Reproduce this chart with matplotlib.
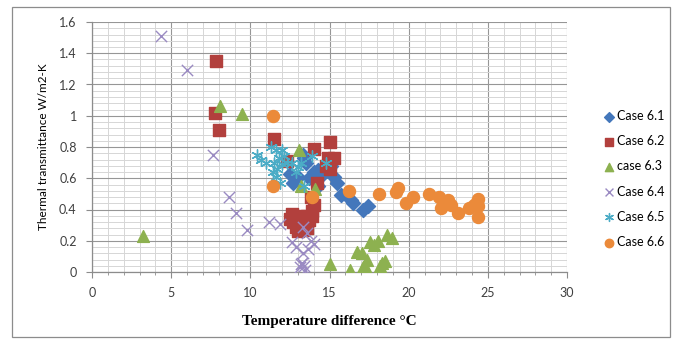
import numpy as np
import matplotlib.pyplot as plt
from matplotlib.patches import Rectangle
from matplotlib.ticker import MultipleLocator

plt.rcParams['font.family'] = ['Lato', 'DejaVu Sans']

# Case 6.1 .. 6.6 : (temperature difference, thermal transmittance)
case61_x = [12.5, 12.7, 13.0, 13.3, 13.4, 13.5, 13.7, 14.0, 14.25, 14.4, 14.25, 14.6, 14.95,
            15.1, 15.3, 15.5, 15.7, 16.35, 16.5, 17.1, 17.4]
case61_y = [0.63, 0.57, 0.61, 0.75, 0.73, 0.70, 0.60, 0.64, 0.65, 0.62, 0.55, 0.63, 0.66,
            0.68, 0.61, 0.57, 0.49, 0.46, 0.44, 0.40, 0.42]

case62_x = [7.8, 7.75, 8.0, 11.5, 12.3, 14.0, 15.0, 14.9, 15.3, 15.0, 14.8, 14.2, 13.8, 14.0,
            13.9, 13.6, 13.7, 13.3, 12.6, 12.7, 12.9, 13.0, 13.3, 12.5, 13.1, 13.5, 13.9, 13.6]
case62_y = [1.35, 1.02, 0.91, 0.85, 0.71, 0.79, 0.83, 0.73, 0.73, 0.66, 0.68, 0.57, 0.48, 0.43,
            0.39, 0.36, 0.33, 0.31, 0.37, 0.32, 0.29, 0.26, 0.27, 0.34, 0.36, 0.30, 0.36, 0.28]

case63_x = [3.2, 8.1, 9.5, 13.1, 13.2, 14.1, 15.0, 16.3, 16.75, 17.05, 17.35, 17.1, 17.35,
            17.55, 18.05, 18.2, 18.3, 18.5, 18.6, 18.95, 17.8]
case63_y = [0.23, 1.06, 1.01, 0.78, 0.55, 0.53, 0.05, 0.01, 0.13, 0.12, 0.08, 0.03, 0.01,
            0.19, 0.20, 0.04, 0.06, 0.07, 0.24, 0.22, 0.17]

case64_x = [4.36, 6.0, 7.63, 8.64, 9.1, 9.8, 11.15, 11.9, 12.6, 12.9, 13.3, 13.25, 13.15,
            13.45, 13.65, 13.6, 13.3, 13.8, 14.0, 13.4, 13.2]
case64_y = [1.51, 1.29, 0.75, 0.48, 0.38, 0.27, 0.32, 0.31, 0.19, 0.16, 0.12, 0.06, 0.03,
            0.01, 0.15, 0.25, 0.29, 0.20, 0.18, 0.04, 0.05]

case65_x = [10.4, 10.7, 11.0, 11.3, 11.5, 11.6, 11.7, 11.8, 11.9, 12.0, 12.1, 12.3, 12.6,
            12.9, 13.2, 13.9, 14.75, 11.4, 11.6, 12.0, 13.4, 13.0]
case65_y = [0.75, 0.72, 0.70, 0.80, 0.70, 0.78, 0.66, 0.73, 0.57, 0.78, 0.74, 0.70, 0.70,
            0.64, 0.70, 0.74, 0.70, 0.64, 0.61, 0.69, 0.55, 0.67]

case66_x = [11.4, 11.4, 13.9, 16.2, 18.1, 19.2, 19.35, 20.3, 19.85, 21.3, 21.9, 22.5, 22.05,
            22.7, 23.1, 23.8, 24.1, 24.3, 24.4, 24.35, 24.35]
case66_y = [1.00, 0.55, 0.48, 0.52, 0.50, 0.51, 0.54, 0.48, 0.44, 0.50, 0.48, 0.46, 0.41,
            0.43, 0.38, 0.41, 0.43, 0.45, 0.47, 0.42, 0.35]

fig = plt.figure(figsize=(6.78, 3.43), dpi=100)
ax = fig.add_axes([92 / 678, 1 - 272 / 343, 475 / 678, 250 / 343])

ms = 60
ax.scatter(case61_x, case61_y, marker='D', s=ms * 0.85, color='#4477BB', label='Case 6.1', zorder=3)
ax.scatter(case62_x, case62_y, marker='s', s=ms * 1.25, color='#B2403D', label='Case 6.2', zorder=3)
ax.scatter(case63_x, case63_y, marker='^', s=ms * 1.2, color='#8DB150', label='case 6.3', zorder=3)
ax.scatter(case64_x, case64_y, marker='x', s=ms * 1.1, color='#9A8AC2', linewidths=1.0, label='Case 6.4', zorder=3)
ax.scatter(case65_x, case65_y, marker=(6, 2, 0), s=ms * 1.1, color='#4BACC6', linewidths=1.0, label='Case 6.5', zorder=3)
ax.scatter(case66_x, case66_y, marker='o', s=ms * 1.25, color='#EB8A3A', label='Case 6.6', zorder=3)

ax.set_xlim(0, 30)
ax.set_ylim(0, 1.6)
ax.xaxis.set_major_locator(MultipleLocator(5))
ax.xaxis.set_minor_locator(MultipleLocator(1))
ax.yaxis.set_minor_locator(MultipleLocator(0.04))
ax.set_yticks(np.arange(0, 1.61, 0.2))
ax.set_yticklabels(['0', '0.2', '0.4', '0.6', '0.8', '1', '1.2', '1.4', '1.6'])

ax.grid(which='major', color='#969696', linewidth=0.8, zorder=0)
ax.grid(which='minor', color='#D6D6D6', linewidth=0.7, zorder=0)
ax.set_axisbelow(True)
for side in ['top', 'right']:
    ax.spines[side].set_visible(False)
for side in ['left', 'bottom']:
    ax.spines[side].set_color('#8C8C8C')
    ax.spines[side].set_linewidth(0.9)
ax.tick_params(which='major', length=4, color='#8C8C8C', labelsize=9, labelcolor='#404040', pad=7)
ax.tick_params(which='minor', length=2, color='#8C8C8C')
ax.tick_params(axis='y', which='minor', length=0)

ax.set_xlabel('Temperature difference °C', family='Liberation Serif', fontweight='bold',
              fontsize=11, labelpad=11)
ax.set_ylabel('Thermal transmittance W/m2-K', fontsize=8.5, labelpad=7)

ax.legend(loc='center left', bbox_to_anchor=(598 / 678, 1 - 179 / 343), bbox_transform=fig.transFigure,
          frameon=False, fontsize=9, labelspacing=1.05, handletextpad=0.1, handlelength=1.0,
          borderaxespad=0, markerscale=0.7)

fig.patches.append(Rectangle((12 / 678, 6 / 343), 658 / 678, 330 / 343, transform=fig.transFigure,
                             fill=False, edgecolor='#8C8C8C', linewidth=0.9))

plt.savefig('out.png', dpi=100)
